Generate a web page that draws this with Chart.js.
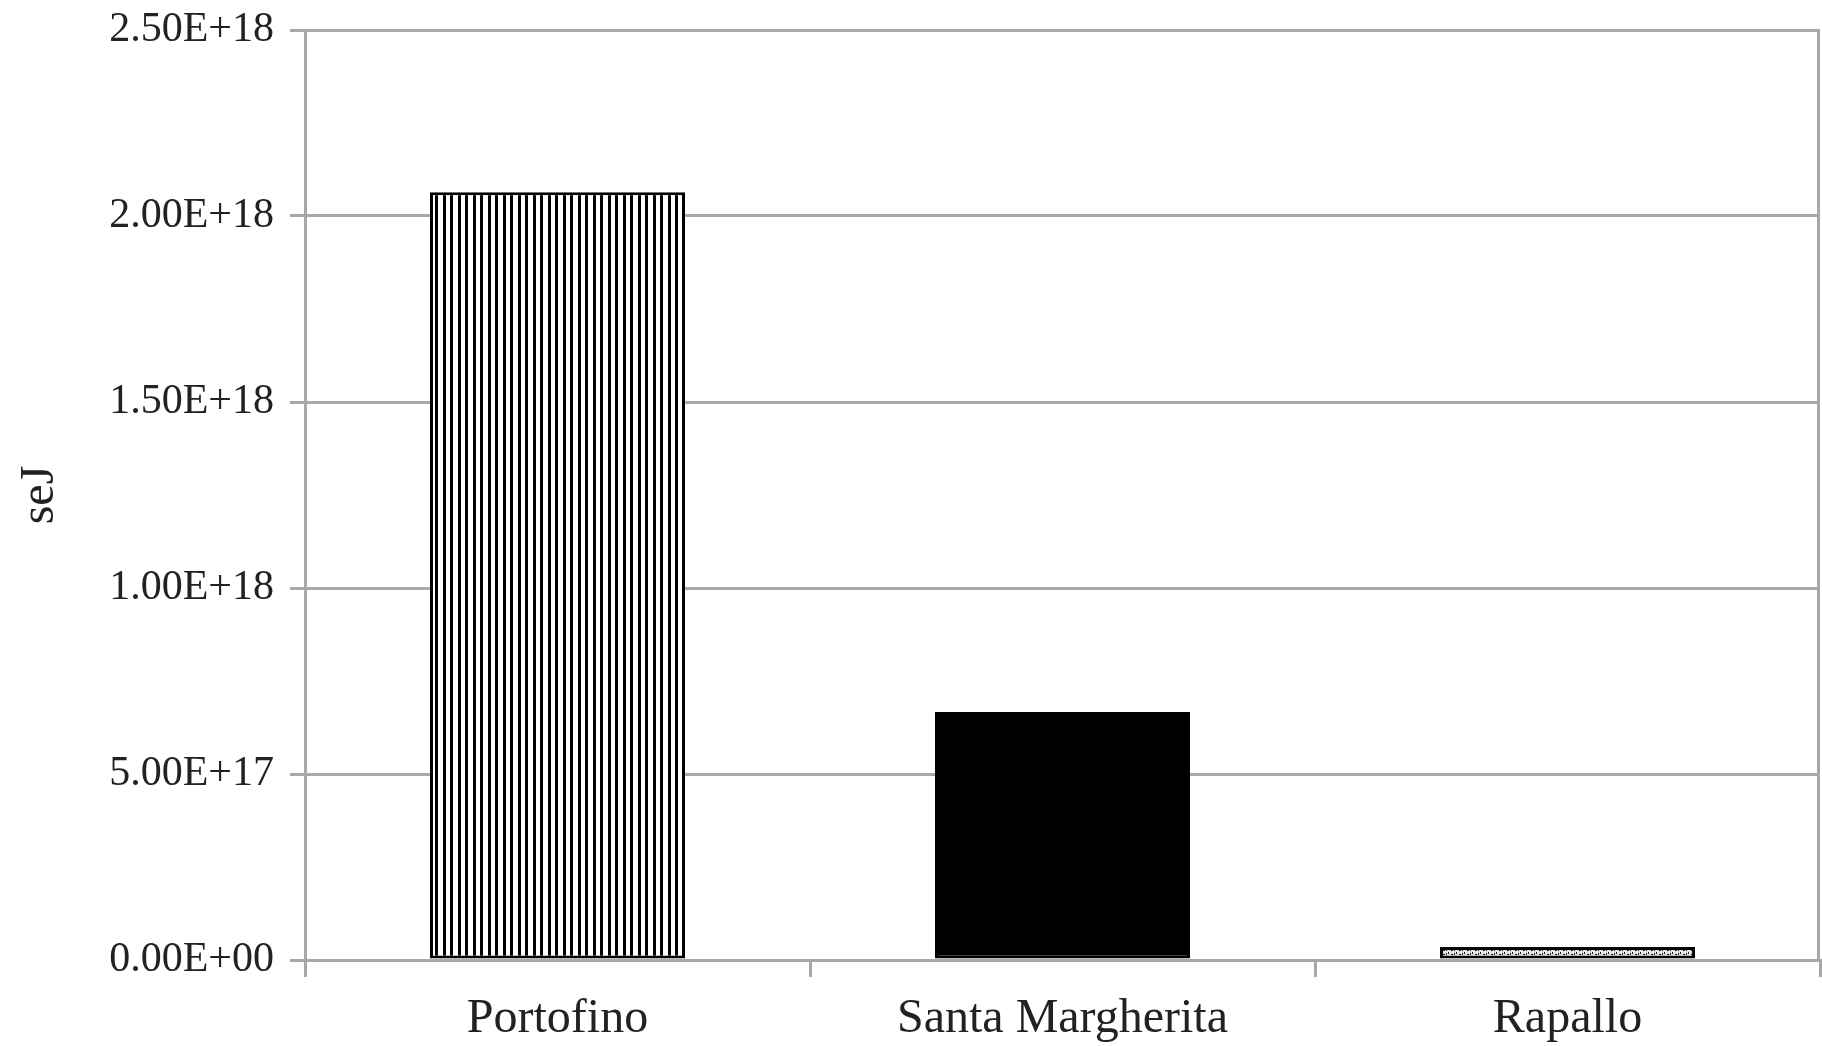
<!DOCTYPE html>
<html>
<head>
<meta charset="utf-8">
<script src="https://cdn.jsdelivr.net/npm/chart.js@4"></script>
<style>
  html, body { margin: 0; padding: 0; background: #fff; }
  #wrap { width: 1822px; height: 1046px; }
</style>
</head>
<body>
<div id="wrap"><canvas id="myChart" width="1822" height="1046"></canvas></div>
<script>
// data
var towns = ["Portofino", "Santa Margherita", "Rapallo"];
var emergy = [2.064e18, 0.667e18, 0.035e18];
var yTicks = [0, 0.5e18, 1.0e18, 1.5e18, 2.0e18, 2.5e18];

var gridGrey = "#a8a8a8";
var serif = "'Liberation Serif', 'Times New Roman', serif";

// vertical stripes for Portofino
var makeStripes = function(ctx) {
    var c = document.createElement("canvas");
    c.width = 15; c.height = 4;
    var g = c.getContext("2d");
    g.fillStyle = "#fff";
    g.fillRect(0, 0, 15, 4);
    g.fillStyle = "#000";
    g.fillRect(0, 0, 3, 4);
    g.fillRect(8, 0, 3, 4);
    return ctx.createPattern(c, "repeat");
}

// speckled fill for Rapallo
var makeDots = function(ctx) {
    var c = document.createElement("canvas");
    c.width = 8; c.height = 4;
    var g = c.getContext("2d");
    g.fillStyle = "#e4e4e4";
    g.fillRect(0, 0, 8, 4);
    g.fillStyle = "#222";
    g.fillRect(0, 0, 1, 2);
    g.fillRect(3, 2, 2, 1);
    g.fillRect(6, 1, 1, 2);
    return ctx.createPattern(c, "repeat");
}

var fmtExp = function(v) {
    var s = Number(v).toExponential(2).toUpperCase();
    // excel style two digit exponent
    return s.replace(/E([+-])(\d)$/, "E$10$2");
}

// right border of the plot area
var plotBorder = {
    id: "plotBorder",
    afterDraw: function(chart) {
        var a = chart.chartArea;
        var c = chart.ctx;
        c.save();
        c.strokeStyle = gridGrey;
        c.lineWidth = 3;
        c.beginPath();
        c.moveTo(a.right - 1.5, a.top);
        c.lineTo(a.right - 1.5, a.bottom);
        c.stroke();
        c.restore();
    }
}

var ctx = document.getElementById("myChart").getContext("2d");

var myChart = new Chart(ctx, {
    type: "bar",
    data: {
        labels: towns,
        datasets: [{
            data: emergy,
            backgroundColor: [makeStripes(ctx), "#000", makeDots(ctx)],
            borderColor: "#000",
            borderWidth: 3,
            borderSkipped: false,
            barPercentage: 0.505,
            categoryPercentage: 1.0
        }]
    },
    plugins: [plotBorder],
    options: {
        responsive: false,
        animation: false,
        layout: { padding: { top: 30, right: 2, left: 0, bottom: 0 } },
        plugins: {
            legend: { display: false },
            tooltip: { enabled: false }
        },
        scales: {
            x: {
                afterFit: function(scale) { scale.height = 86; },
                grid: {
                    offset: true,
                    drawOnChartArea: false,
                    color: gridGrey,
                    lineWidth: 3,
                    tickLength: 17
                },
                border: { color: gridGrey, width: 3 },
                ticks: {
                    color: "#222",
                    padding: 14,
                    font: { family: serif, size: 48 }
                }
            },
            y: {
                min: 0,
                max: 2.5e18,
                afterFit: function(scale) {
                    scale.width = 305;
                    // let the layout padding decide the top edge
                    scale.paddingTop = 0;
                    scale.paddingBottom = 0;
                },
                afterBuildTicks: function(scale) {
                    scale.ticks = yTicks.map(function(v) { return { value: v }; });
                },
                grid: {
                    color: gridGrey,
                    lineWidth: 3,
                    tickLength: 15
                },
                border: { color: gridGrey, width: 3 },
                ticks: {
                    color: "#222",
                    padding: 16,
                    font: { family: serif, size: 42 },
                    callback: function(v) { return fmtExp(v); }
                },
                title: {
                    display: true,
                    text: "seJ",
                    color: "#222",
                    padding: { top: 12, bottom: 0 },
                    font: { family: serif, size: 48 }
                }
            }
        }
    }
});
</script>
</body>
</html>
